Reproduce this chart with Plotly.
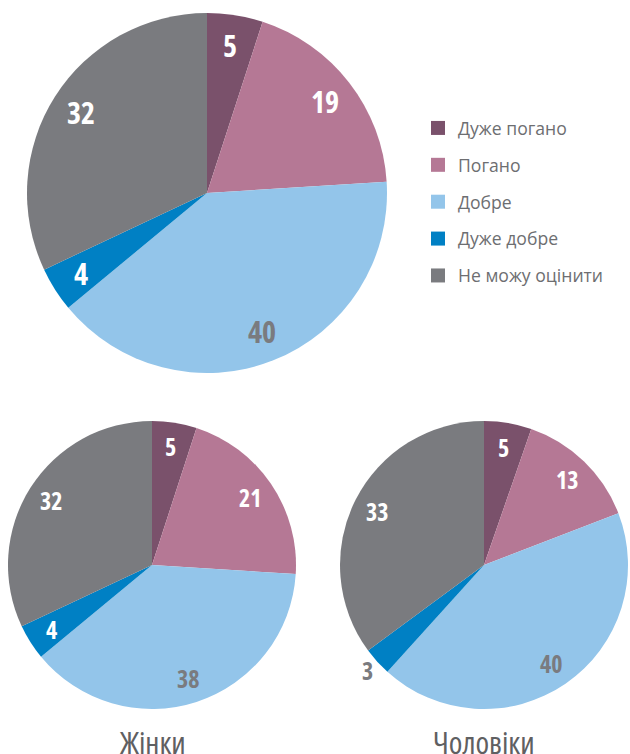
import math

import plotly.graph_objects as go

categories = ["Дуже погано", "Погано", "Добре", "Дуже добре", "Не можу оцінити"]
all_values = [5, 19, 40, 4, 32]
women_values = [5, 21, 38, 4, 32]
men_values = [5, 13, 40, 3, 33]
group_titles = ["Жінки", "Чоловіки"]

COLORS = ["#7a516b", "#b57895", "#93c5ea", "#0080c4", "#7a7b7f"]
LABEL_GREY = "#7a7b7f"
TEXT_GREY = "#6d6e71"
FONT = "Open Sans, sans-serif"
COND = "<span style='font-stretch:75%'>{}</span>"

W, H = 630, 754

# pie boxes in pixels: (left, top, size), label font size
PIES = [
    (all_values, (27, 13, 360), 30),
    (women_values, (8, 421, 288), 24),
    (men_values, (340, 421, 288), 24),
]

fig = go.Figure()
annotations = []

for values, (left, top, size), fsize in PIES:
    fig.add_trace(
        go.Pie(
            values=values,
            labels=categories,
            sort=False,
            direction="clockwise",
            rotation=0,
            textinfo="none",
            hoverinfo="label+value",
            marker=dict(colors=COLORS, line=dict(width=0)),
            showlegend=False,
            domain=dict(x=[left / W, (left + size) / W], y=[1 - (top + size) / H, 1 - top / H]),
        )
    )
    # value labels along the mid-angle of each slice
    cx, cy, r = left + size / 2, top + size / 2, size / 2
    total = sum(values)
    cum = 0
    for i, v in enumerate(values):
        mid = 2 * math.pi * (cum + v / 2) / total
        cum += v
        outside = v / total < 0.035
        k = 1.09 if outside else 0.83
        color = LABEL_GREY if (i == 2 or outside) else "white"
        annotations.append(
            dict(
                x=(cx + k * r * math.sin(mid)) / W,
                y=1 - (cy - k * r * math.cos(mid)) / H,
                xref="paper",
                yref="paper",
                xanchor="center",
                yanchor="middle",
                text=COND.format(f"<b>{v}</b>"),
                showarrow=False,
                font=dict(family=FONT, size=fsize, color=color),
            )
        )

# group captions under the lower pies
for title, (_, (left, top, size), _f) in zip(group_titles, PIES[1:]):
    annotations.append(
        dict(
            x=(left + size / 2) / W,
            y=1 - 719 / H,
            xref="paper",
            yref="paper",
            xanchor="center",
            yanchor="top",
            text=COND.format(title),
            showarrow=False,
            font=dict(family=FONT, size=31, color="#5f6062"),
        )
    )

# legend entries (one group each so the spacing can be set)
for name, color in zip(categories, COLORS):
    fig.add_trace(
        go.Scatter(
            x=[None],
            y=[None],
            mode="markers",
            name=name,
            legendgroup=name,
            marker=dict(symbol="square", size=14, color=color),
        )
    )

fig.update_layout(
    width=W,
    height=H,
    margin=dict(l=0, r=0, t=0, b=0),
    paper_bgcolor="white",
    plot_bgcolor="white",
    xaxis=dict(visible=False),
    yaxis=dict(visible=False),
    annotations=annotations,
    legend=dict(
        x=418 / W,
        y=1 - 110 / H,
        xanchor="left",
        yanchor="top",
        tracegroupgap=11,
        itemwidth=30,
        font=dict(family=FONT, size=17.6, color=TEXT_GREY),
        bgcolor="rgba(0,0,0,0)",
    ),
)

fig.write_html(
    "out.html",
    config={"displayModeBar": False},
    post_script="document.body.style.margin='0';",
)
